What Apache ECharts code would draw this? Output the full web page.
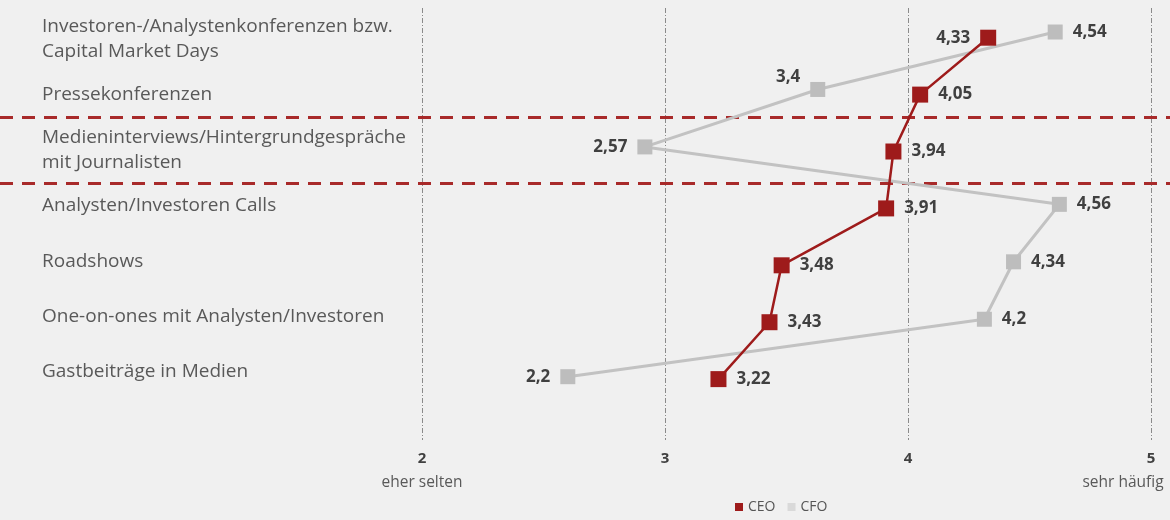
<!DOCTYPE html>
<html>
<head>
<meta charset="utf-8">
<script src="https://cdn.jsdelivr.net/npm/echarts@6/dist/echarts.min.js"></script>
<style>
  html, body { margin: 0; padding: 0; background: #f0f0f0; }
  #chart { width: 1170px; height: 520px; }
</style>
</head>
<body>
<div id="chart"></div>
<script>
// Kategorien (von oben nach unten)
const categories = [
  'Investoren-/Analystenkonferenzen bzw.\nCapital Market Days',
  'Pressekonferenzen',
  'Medieninterviews/Hintergrundgespräche\nmit Journalisten',
  'Analysten/Investoren Calls',
  'Roadshows',
  'One-on-ones mit Analysten/Investoren',
  'Gastbeiträge in Medien'
]
const ceoValues = [4.33, 4.05, 3.94, 3.91, 3.48, 3.43, 3.22]
const cfoValues = [4.54, 3.4, 2.57, 4.56, 4.34, 4.2, 2.2]
const xTicks = [2, 3, 4, 5]
const xTickNotes = { 2: 'eher selten', 5: 'sehr häufig' }
// Trennlinien zwischen den Gruppen (in Kategorie-Einheiten)
const separators = [1.4, 2.55]

// Label-Positionen der Werte
const ceoLabelPos = ['left', 'right', 'right', 'right', 'right', 'right', 'right']
const cfoLabelPos = ['right', 'left', 'left', 'right', 'right', 'right', 'left']

const chart = echarts.init(document.getElementById('chart'))
const fmt = v => String(v).replace('.', ',')

const labelStyle = {
  show: true,
  fontFamily: 'Open Sans',
  fontWeight: 'bold',
  fontSize: 17,
  color: '#404040',
  distance: 10,
  formatter: p => fmt(p.value[0])
}

function points(values, pos, lifted) {
  return values.map((v, i) => ({
    value: [v, i],
    label: i === lifted
      ? { position: pos[i], offset: [0, -12] }
      : { position: pos[i] }
  }))
}

const option = {
  backgroundColor: '#f0f0f0',
  animation: false,
  textStyle: { fontFamily: 'Open Sans' },
  grid: { left: 422, right: 19, top: 8, bottom: 80, outerBoundsMode: 'none', containLabel: false },
  legend: {
    bottom: 1,
    left: 730,
    icon: 'rect',
    itemWidth: 8,
    itemHeight: 8,
    itemGap: 12,
    textStyle: { fontSize: 14, color: '#555', fontFamily: 'Liberation Sans Narrow, Open Sans' },
    data: [
      { name: 'CEO', itemStyle: { color: '#9e1b1b' } },
      { name: 'CFO', itemStyle: { color: '#d9d9d9' } }
    ]
  },
  xAxis: [
    {
      type: 'value',
      min: xTicks[0],
      max: xTicks[xTicks.length - 1],
      interval: 1,
      axisLine: { show: false },
      axisTick: { show: false },
      splitLine: { lineStyle: { color: '#8a8a8a', width: 1, type: [5, 2, 1, 2] } },
      axisLabel: {
        margin: 8,
        formatter: v => {
          if (v === 2) return '{n|' + v + '}\n{lo|' + xTickNotes[2] + '}'
          if (v === 5) return '{n|' + v + '}\n{hi|' + xTickNotes[5] + '}'
          return '{n|' + v + '}'
        },
        rich: {
          n: { fontFamily: 'Open Sans', fontWeight: 'bold', fontSize: 15, color: '#404040', lineHeight: 22 },
          lo: { fontFamily: 'Open Sans', fontSize: 15.5, color: '#595959', lineHeight: 26 },
          hi: { fontFamily: 'Open Sans', fontSize: 15.5, color: '#595959', lineHeight: 26, padding: [0, 56, 0, 0] }
        }
      }
    },
    // CFO-Werte liegen in der Vorlage auf einer eigenen Skala (1,5 bis 5)
    { type: 'value', min: 1.5, max: 5, show: false, splitLine: { show: false } }
  ],
  yAxis: [
    { type: 'value', inverse: true, min: -0.522, max: 7.07, show: false, splitLine: { show: false }, position: 'left' },
    { type: 'value', inverse: true, min: -0.418, max: 7.102, show: false, splitLine: { show: false }, position: 'left' },
    {
      type: 'value',
      inverse: true,
      min: -0.569,
      max: 7.229,
      position: 'left',
      axisLine: { show: false },
      axisTick: { show: false },
      splitLine: { show: false },
      axisLabel: {
        customValues: categories.map((c, i) => i),
        formatter: v => categories[v] || '',
        align: 'left',
        margin: 380,
        fontFamily: 'Open Sans',
        fontSize: 19,
        lineHeight: 25,
        color: '#595959'
      }
    }
  ],
  series: [
    {
      name: 'CFO',
      type: 'line',
      xAxisIndex: 1,
      yAxisIndex: 1,
      data: points(cfoValues, cfoLabelPos, 1),
      symbol: 'rect',
      symbolSize: 15,
      color: '#bdbdbd',
      itemStyle: { color: '#bdbdbd' },
      lineStyle: { color: '#c2c2c2', width: 3 },
      label: labelStyle,
      z: 3
    },
    {
      name: 'CEO',
      type: 'line',
      xAxisIndex: 0,
      yAxisIndex: 0,
      data: points(ceoValues, ceoLabelPos, -1),
      symbol: 'rect',
      symbolSize: 16,
      color: '#9e1b1b',
      itemStyle: { color: '#9e1b1b' },
      lineStyle: { color: '#9e1b1b', width: 2.5 },
      label: labelStyle,
      z: 4
    }
  ]
}

chart.setOption(option)

chart.setOption({
  graphic: separators.map(v => {
    const y = Math.round(chart.convertToPixel({ yAxisIndex: 0 }, v)) + 0.5
    return {
      type: 'line',
      z: 1,
      shape: { x1: 0, y1: y, x2: 1170, y2: y },
      style: { stroke: '#a82a2a', lineWidth: 3, lineDash: [13, 9] }
    }
  })
})
</script>
</body>
</html>
